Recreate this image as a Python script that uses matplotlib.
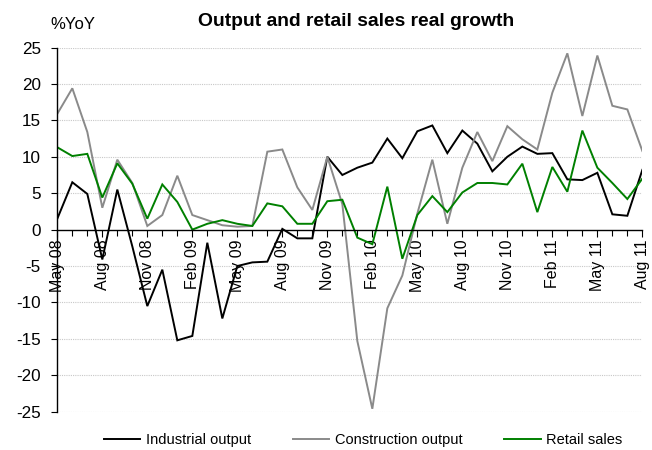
import matplotlib
matplotlib.use("Agg")
import matplotlib.pyplot as plt
import numpy as np

plt.rcParams['font.family'] = ['Liberation Sans', 'DejaVu Sans']

months = ["May 08", "Jun 08", "Jul 08", "Aug 08", "Sep 08", "Oct 08", "Nov 08", "Dec 08",
          "Jan 09", "Feb 09", "Mar 09", "Apr 09", "May 09", "Jun 09", "Jul 09", "Aug 09",
          "Sep 09", "Oct 09", "Nov 09", "Dec 09",
          "Jan 10", "Feb 10", "Mar 10", "Apr 10", "May 10", "Jun 10", "Jul 10", "Aug 10",
          "Sep 10", "Oct 10", "Nov 10", "Dec 10",
          "Jan 11", "Feb 11", "Mar 11", "Apr 11", "May 11", "Jun 11", "Jul 11", "Aug 11"]

industrial = [1.5, 6.5, 4.9, -4.1, 5.5, -2.3, -10.5, -5.5,
              -15.2, -14.6, -1.8, -12.2, -5.0, -4.5, -4.4, 0.1, -1.2, -1.2, 10.0, 7.5,
              8.5, 9.2, 12.5, 9.8, 13.5, 14.3, 10.5, 13.6, 11.8, 8.0, 10.0, 11.4,
              10.4, 10.5, 6.9, 6.8, 7.8, 2.1, 1.9, 8.2]

construction = [15.9, 19.4, 13.4, 3.0, 9.6, 6.4, 0.5, 2.0,
                7.4, 2.0, 1.3, 0.6, 0.4, 0.5, 10.7, 11.0, 5.8, 2.7, 10.0, 3.5,
                -15.3, -24.6, -10.8, -6.3, 2.2, 9.6, 0.8, 8.5, 13.4, 9.4, 14.2, 12.4,
                11.0, 18.8, 24.2, 15.6, 23.9, 17.0, 16.5, 10.8]

retail = [11.3, 10.1, 10.4, 4.4, 9.1, 6.3, 1.5, 6.2,
          3.8, 0.0, 0.8, 1.3, 0.8, 0.5, 3.6, 3.2, 0.8, 0.8, 3.9, 4.1,
          -1.1, -2.0, 5.9, -4.0, 2.0, 4.6, 2.4, 5.1, 6.4, 6.4, 6.2, 9.05,
          2.4, 8.6, 5.2, 13.6, 8.5, 6.4, 4.2, 7.0]

series_names = ["Industrial output", "Construction output", "Retail sales"]
colors = ["#000000", "#8a8a8a", "#008000"]

y_ticks = [25, 20, 15, 10, 5, 0, -5, -10, -15, -20, -25]

fig = plt.figure(figsize=(6.52, 4.5), dpi=100)
ax = fig.add_axes([0.0879, 0.0851, 0.8973, 0.8093])

x = np.arange(len(months))
for data, name, c in zip([industrial, construction, retail], series_names, colors):
    ax.plot(x, data, color=c, lw=1.4, label=name, solid_joinstyle='miter')

ax.set_xlim(0, len(months) - 1)
ax.set_ylim(-25, 25)
ax.set_yticks(y_ticks)
ax.set_yticklabels([str(v) for v in y_ticks], fontsize=12.3)
for v in y_ticks:
    if v != 0:
        ax.axhline(v, color="#c8c8c8", lw=0.8, ls=(0, (1, 1)), zorder=0)

# x axis at zero
ax.spines['top'].set_visible(False)
ax.spines['right'].set_visible(False)
ax.spines['bottom'].set_position(('data', 0))
ax.spines['bottom'].set_linewidth(1.0)
ax.spines['left'].set_linewidth(1.0)

major = list(range(0, len(months), 3))
ax.set_xticks(major)
ax.set_xticklabels([months[i] for i in major], rotation=90, fontsize=11.5)
ax.set_xticks(x, minor=True)
ax.tick_params(axis='x', which='major', direction='out', length=5, width=0.8, pad=2)
ax.tick_params(axis='x', which='minor', direction='out', length=4, width=0.8)
ax.tick_params(axis='y', direction='out', length=4, width=0.8, pad=8)

fig.text(0.546, 0.953, "Output and retail sales real growth", ha='center', va='center',
         fontsize=13.9, fontweight='bold')
fig.text(0.077, 0.945, "%YoY", ha='left', va='center', fontsize=12)

fig.legend(loc='center', bbox_to_anchor=(0.557, 0.022), ncol=3, frameon=False,
           fontsize=10.5, handlelength=2.5, handletextpad=0.35, columnspacing=2.9,
           borderaxespad=0)

fig.savefig("out.png", dpi=100)
